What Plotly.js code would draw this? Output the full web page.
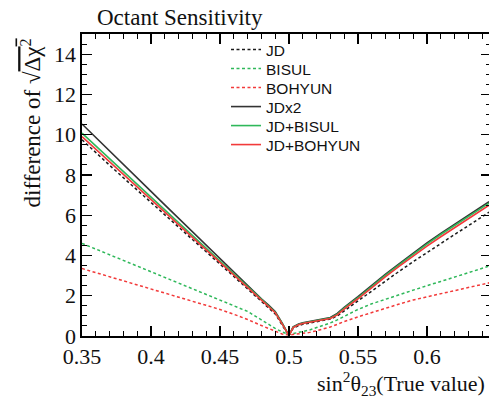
<!DOCTYPE html>
<html>
<head>
<meta charset="utf-8">
<script src="https://cdn.plot.ly/plotly-3.0.1.min.js"></script>
<style>html,body{margin:0;padding:0;overflow:hidden;background:#fff;}</style>
</head>
<body>
<div id="chart" style="width:491px;height:401px;"></div>
<script>
// True value of sin^2(theta23)
const xTrue = [0.35,0.36,0.37,0.38,0.39,0.40,0.41,0.42,0.43,0.44,0.45,0.46,0.47,0.48,0.485,0.49,0.495,0.50,
  0.503,0.507,0.51,0.515,0.52,0.525,0.53,0.535,0.54,0.55,0.56,0.57,0.58,0.59,0.60,0.61,0.62,0.63,0.64,0.645];

const seriesNames = ["JD","BISUL","BOHYUN","JDx2","JD+BISUL","JD+BOHYUN"];

const yJD = [9.75,9.1,8.48,7.86,7.24,6.63,6.02,5.4,4.79,4.18,3.57,2.96,2.35,1.74,1.44,1.1,0.55,0.02,
  0.38,0.52,0.58,0.64,0.7,0.76,0.84,1.0,1.25,1.75,2.25,2.74,3.22,3.69,4.15,4.6,5.04,5.48,5.92,6.15];
const yBISUL = [4.6,4.32,4.04,3.76,3.48,3.2,2.92,2.64,2.36,2.08,1.8,1.52,1.22,0.8,0.58,0.38,0.2,0.08,
  0.12,0.18,0.22,0.3,0.42,0.53,0.65,0.8,0.98,1.32,1.6,1.83,2.06,2.28,2.5,2.71,2.93,3.15,3.37,3.47];
const yBOHYUN = [3.35,3.15,2.95,2.75,2.55,2.35,2.15,1.95,1.75,1.55,1.32,1.08,0.82,0.52,0.37,0.22,0.1,0.05,
  0.07,0.1,0.13,0.18,0.26,0.35,0.45,0.58,0.72,0.95,1.17,1.38,1.59,1.79,1.95,2.11,2.27,2.42,2.57,2.64];
const yJDx2 = [10.53,9.85,9.18,8.52,7.85,7.18,6.51,5.84,5.17,4.5,3.84,3.17,2.5,1.85,1.55,1.22,0.65,0.02,
  0.45,0.6,0.66,0.72,0.77,0.83,0.92,1.12,1.42,1.95,2.52,3.07,3.6,4.12,4.62,5.1,5.56,6.0,6.44,6.67];
const yJDBISUL = [10.08,9.44,8.8,8.16,7.53,6.9,6.26,5.63,4.99,4.36,3.72,3.08,2.45,1.82,1.52,1.18,0.62,0.02,
  0.43,0.57,0.63,0.69,0.74,0.8,0.89,1.08,1.38,1.9,2.47,3.02,3.55,4.07,4.56,5.04,5.5,5.94,6.38,6.6];
const yJDBOHYUN = [9.9,9.27,8.65,8.02,7.4,6.77,6.15,5.53,4.9,4.28,3.66,3.04,2.42,1.8,1.5,1.16,0.6,0.02,
  0.42,0.56,0.62,0.68,0.73,0.79,0.87,1.05,1.34,1.85,2.41,2.95,3.47,3.98,4.46,4.93,5.38,5.83,6.27,6.5];

const GREEN = "#2fb85a", RED = "#f23a3a", BLACK = "#1a1a1a";
const serif = "Liberation Serif";
const sans = "Liberation Sans";

// legend row centres (page px) -> one small legend per series
const rowCentres = [50, 69, 88, 107, 126, 145];
const plotTop = 34, plotBottom = 336;
const plotLeft = 82, plotWidth = 409;

function tr(i, y, color, dash, width) {
  return {x: xTrue, y: y, name: seriesNames[i], type: "scatter", mode: "lines",
    legend: i === 0 ? "legend" : "legend" + (i + 1),
    line: {color: color, dash: dash, width: width}};
}

const data = [
  tr(0, yJD, BLACK, "3px,2.5px", 1.5),
  tr(1, yBISUL, GREEN, "3px,2.5px", 1.5),
  tr(2, yBOHYUN, RED, "3px,2.5px", 1.5),
  tr(3, yJDx2, "#333333", "solid", 1.6),
  tr(4, yJDBISUL, GREEN, "solid", 1.6),
  tr(5, yJDBOHYUN, RED, "solid", 1.6)
];

const layout = {
  width: 491, height: 401,
  margin: {l: plotLeft, r: 0, t: plotTop, b: 65},
  paper_bgcolor: "#fff", plot_bgcolor: "#fff",
  font: {family: serif, size: 22, color: "#111"},
  showlegend: true,
  xaxis: {
    range: [0.35, 0.6464], dtick: 0.05, tick0: 0.35,
    ticks: "inside", ticklen: 10, tickwidth: 1.2, tickcolor: "#000",
    minor: {dtick: 0.01, ticks: "inside", ticklen: 5, tickwidth: 1, tickcolor: "#000"},
    showline: true, linecolor: "#000", linewidth: 1.6, mirror: "ticks",
    showgrid: false, zeroline: false,
    tickfont: {family: serif, size: 22, color: "#111"}
  },
  yaxis: {
    range: [0, 15], dtick: 2, tick0: 0,
    ticks: "inside", ticklen: 10, tickwidth: 1.2, tickcolor: "#000",
    minor: {dtick: 0.5, ticks: "inside", ticklen: 5, tickwidth: 1, tickcolor: "#000"},
    showline: true, linecolor: "#000", linewidth: 1.6, mirror: "ticks",
    showgrid: false, zeroline: false,
    tickfont: {family: serif, size: 22, color: "#111"}
  },
  annotations: [
    {text: "Octant Sensitivity", xref: "paper", yref: "paper",
     x: (95 - plotLeft) / plotWidth, y: 1, xanchor: "left", yanchor: "bottom", yshift: 2,
     showarrow: false, font: {family: serif, size: 23, color: "#111"}},
    {text: "sin<sup>2</sup>θ<sub>23</sub>(True value)", xref: "paper", yref: "paper",
     x: (487 - plotLeft) / plotWidth, y: 0, xanchor: "right", yanchor: "top", yshift: -30,
     showarrow: false, font: {family: serif, size: 22, color: "#111"}},
    {text: "difference of √<span style='text-decoration:overline'>Δχ<sup>2</sup></span>",
     xref: "paper", yref: "paper", textangle: -90,
     x: (31 - plotLeft) / plotWidth, y: 1, xanchor: "center", yanchor: "top", yshift: -3,
     showarrow: false, font: {family: serif, size: 23, color: "#111"}}
  ]
};

rowCentres.forEach(function (yc, i) {
  const key = i === 0 ? "legend" : "legend" + (i + 1);
  layout[key] = {x: (226 - plotLeft) / plotWidth, y: (plotBottom - yc) / (plotBottom - plotTop),
    xanchor: "left", yanchor: "middle", bgcolor: "rgba(0,0,0,0)", borderwidth: 0,
    font: {family: sans, size: 15.5, color: "#111"}};
});

Plotly.newPlot("chart", data, layout, {staticPlot: true, displayModeBar: false});
</script>
</body>
</html>
